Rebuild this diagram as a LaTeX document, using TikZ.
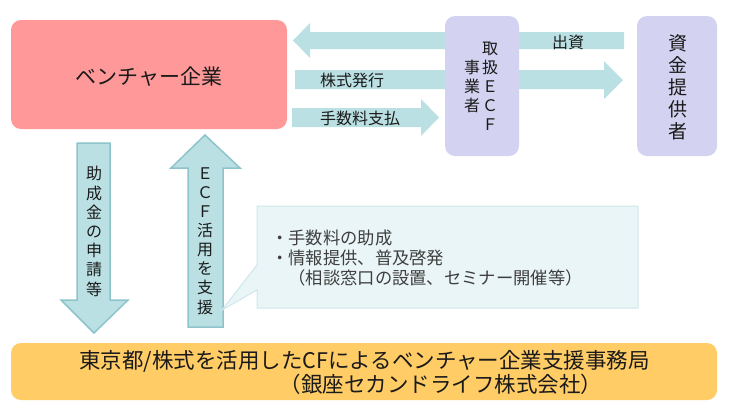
\documentclass[tikz,border=0pt]{standalone}
\usepackage{fontspec}
\setmainfont{Noto Sans CJK JP}
\usetikzlibrary{positioning}
\definecolor{venturefill}{HTML}{FF9999}
\definecolor{agentfill}{HTML}{D3D2F0}
\definecolor{flowfill}{HTML}{BBE0E3}
\definecolor{flowline}{HTML}{8DC4CB}
\definecolor{notefill}{HTML}{EAF5F7}
\definecolor{noteline}{HTML}{CFE7EB}
\definecolor{officefill}{HTML}{FFCC66}
\definecolor{ink}{HTML}{1A1A1A}
\definecolor{noteink}{HTML}{3F3F3F}

\tikzset{
  flow/.style={fill=flowfill},
  bigflow/.style={fill=flowfill, draw=flowline, line width=1.5pt},
  box/.style={rounded corners=10pt},
  lbl/.style={inner sep=0pt, text=ink, font=\fontsize{16}{19}\selectfont},
  vlbl/.style={lbl, align=center},
}

\begin{document}
\begin{tikzpicture}[x=1pt,y=-1pt]
  \useasboundingbox (0,0) rectangle (732,416);

  \fill[flow] (624,32) -- (310,32) -- (310,23) -- (293,40.5) -- (310,58) -- (310,49) -- (624,49) -- cycle;
  \fill[flow] (295,70) -- (604,70) -- (604,61) -- (623,80) -- (604,99) -- (604,89) -- (295,89) -- cycle;
  \fill[flow] (292,108) -- (421,108) -- (421,99) -- (439,117.5) -- (421,136) -- (421,127) -- (292,127) -- cycle;

  \fill[box, venturefill] (11,20) rectangle (287,129);
  \fill[box, agentfill] (445,16) rectangle (519,156);
  \fill[box, agentfill] (637,16) rectangle (717,156);

  \node[lbl, font=\fontsize{21}{24}\selectfont] (venture) at (149,77) {ベンチャー企業};
  \node[lbl] (invest) at (568,42) {出資};
  \node[lbl, anchor=west] (issue) at (320,80) {株式発行};
  \node[lbl, anchor=west] (fee) at (320,118) {手数料支払};
  \node[lbl] (agent) at (481,88.5) {%
    \begin{tabular}{@{}c@{\hspace{2pt}}c@{}}
       & 取\\
      事 & 扱\\
      業 & Ｅ\\
      者 & Ｃ\\
       & Ｆ
    \end{tabular}};
  \node[vlbl, font=\fontsize{19}{22}\selectfont] (funder) at (678,87.5) {資\\金\\提\\供\\者};

  \draw[bigflow] (77,143) -- (110,143) -- (110,300) -- (128,300) -- (94,333) -- (61,300) -- (77,300) -- cycle;
  \draw[bigflow] (205,135) -- (240,168) -- (223,168) -- (223,327) -- (188,327) -- (188,168) -- (171,168) -- cycle;
  \node[vlbl, font=\fontsize{16}{19.2}\selectfont] (apply) at (94,231.5) {助\\成\\金\\の\\申\\請\\等};
  \node[vlbl, font=\fontsize{16}{19.1}\selectfont] (support) at (205,241) {Ｅ\\Ｃ\\Ｆ\\活\\用\\を\\支\\援};

  \draw[fill=notefill, draw=noteline, line width=1pt] (257,206) -- (638,206) -- (638,308) -- (257,308) -- (257,290) -- (222,310) -- (257,265) -- cycle;
  \node[lbl, anchor=west, align=left, text=noteink, font=\fontsize{17.3}{20}\selectfont] (note) at (271,258)
    {・手数料の助成\\・情報提供、普及啓発\\　（相談窓口の設置、セミナー開催等）};

  \fill[box, officefill] (11,343) rectangle (717,400);
  \node[lbl, font=\fontsize{21.5}{24}\selectfont] (office) at (364.5,361) {東京都/株式を活用したCFによるベンチャー企業支援事務局};
  \node[lbl, font=\fontsize{21.5}{24}\selectfont] (company) at (441,384) {（銀座セカンドライフ株式会社）};
\end{tikzpicture}
\end{document}
